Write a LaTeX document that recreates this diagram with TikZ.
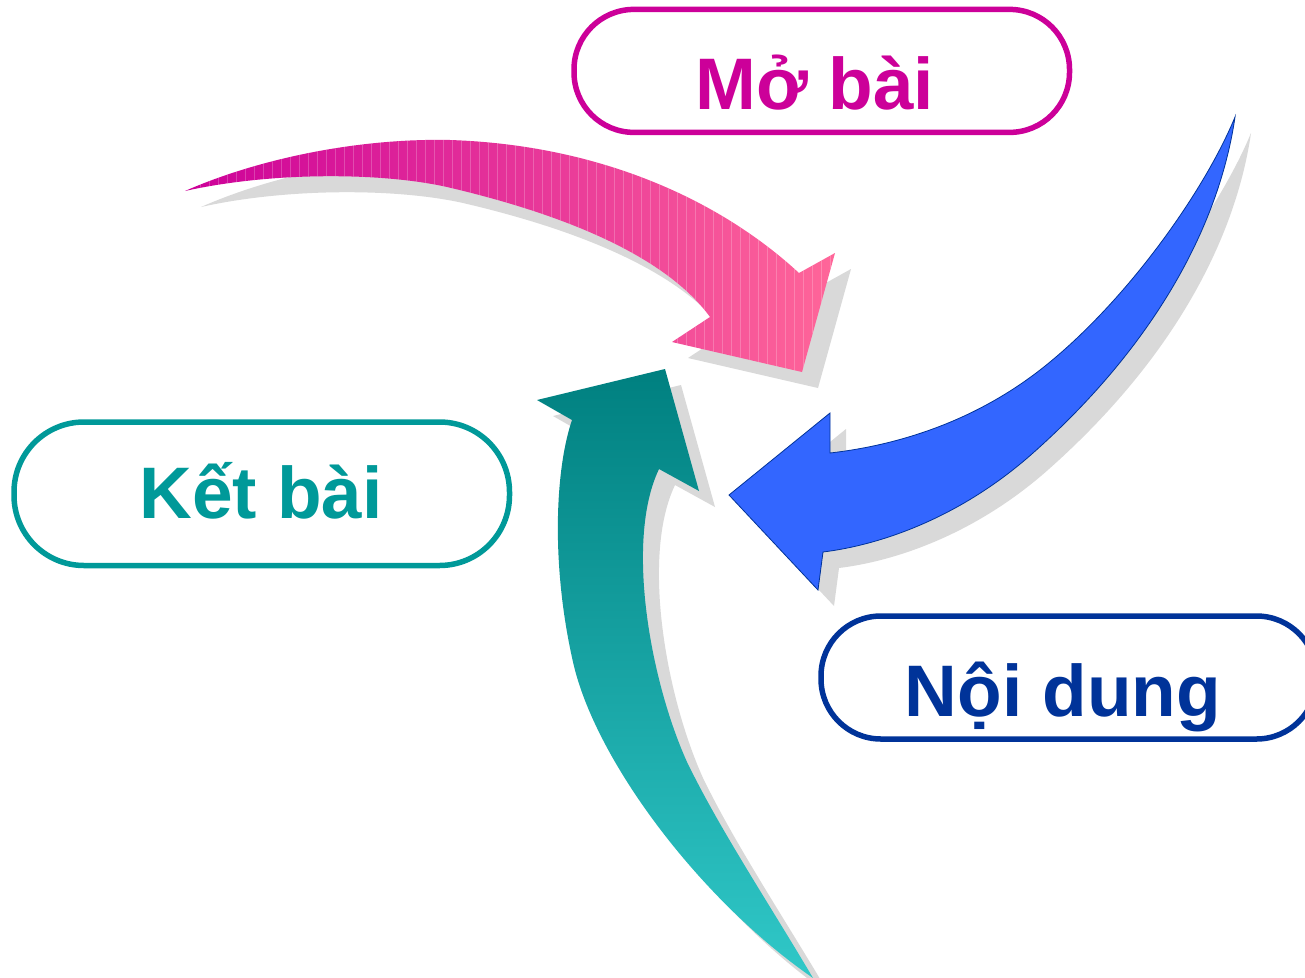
\documentclass[tikz,border=0pt]{standalone}
\usepackage{fontspec}
\setmainfont{Liberation Sans}
\definecolor{cmag}{HTML}{CC0099}
\definecolor{cpink}{HTML}{FF6699}
\definecolor{cteal}{HTML}{009999}
\definecolor{ctealD}{HTML}{008080}
\definecolor{ctealL}{HTML}{30C8C8}
\definecolor{cnavy}{HTML}{003399}
\definecolor{cblue}{HTML}{3366FF}
\definecolor{cshadow}{HTML}{D9D9D9}
\newcommand\pinkarrowpath{%
  (185,191) .. controls (260,158) and (360,138) .. (450,140)
  .. controls (600,145) and (720,200) .. (799,273)
  -- (835,253) -- (802,372) -- (672,342) -- (710,317)
  .. controls (670,262) and (580,218) .. (447,187)
  .. controls (380,172) and (270,172) .. (185,191)
  -- cycle}
\newcommand\bluearrowpath{%
  (1235,117) .. controls (1220,220) and (1160,340) .. (1033,453)
  .. controls (960,518) and (880,545) .. (823,552)
  -- (818,590) -- (729,495) -- (830,413) -- (830,453)
  .. controls (900,445) and (980,420) .. (1050,362)
  .. controls (1130,296) and (1205,190) .. (1235,117)
  -- cycle}
\newcommand\tealarrowpath{%
  (665,369) -- (537,400) -- (572,420)
  .. controls (555,470) and (551,565) .. (573,662)
  .. controls (595,760) and (700,900) .. (813,978)
  .. controls (770,905) and (720,830) .. (687,762)
  .. controls (650,680) and (625,540) .. (659,469)
  -- (699,491) -- cycle}
\begin{document}
\begin{tikzpicture}[x=1pt,y=-1pt,
  pill/.style={draw=#1, line width=5.5pt, rounded corners=60pt, minimum width=495.5pt, minimum height=123pt, inner sep=0pt, fill=none},
  lbl/.style={text=#1, font=\bfseries\fontsize{73}{88}\selectfont, anchor=base, inner sep=0pt},
  shadowfill/.style={fill=cshadow, shift={(16,16)}},
  stripe/.style={draw=white, draw opacity=0.22, line width=0.6pt}]
\useasboundingbox (0,0) rectangle (1305,977);
\clip (0,0) rectangle (1305,977);
\fill[white] (0,0) rectangle (1305,977);
% pink arrow
\fill[shadowfill] \pinkarrowpath;
\shade[left color=cmag, right color=cpink] \pinkarrowpath;
\begin{scope}
  \clip \pinkarrowpath;
  \foreach \sx in {200,209,...,840} {\draw[stripe] (\sx,130) -- (\sx,380);}
\end{scope}
% blue arrow
\fill[shadowfill] \bluearrowpath;
\filldraw[fill=cblue, draw=cnavy, line width=0.8pt] \bluearrowpath;
% teal arrow
\fill[shadowfill] \tealarrowpath;
\shade[top color=ctealD, bottom color=ctealL] \tealarrowpath;
% boxes
\node[pill=cmag] (mo) at (821.75,70.9) {};
\node[lbl=cmag] (motext) at (815,109.3) {Mở bài};
\node[pill=cteal, minimum height=143.5pt, rounded corners=70pt] (ket) at (261.75,493.75) {};
\node[lbl=cteal] (kettext) at (261.2,518.3) {Kết bài};
\node[pill=cnavy] (noi) at (1068.75,677.5) {};
\node[lbl=cnavy] (noitext) at (1063,716) {Nội dung};
\end{tikzpicture}
\end{document}
